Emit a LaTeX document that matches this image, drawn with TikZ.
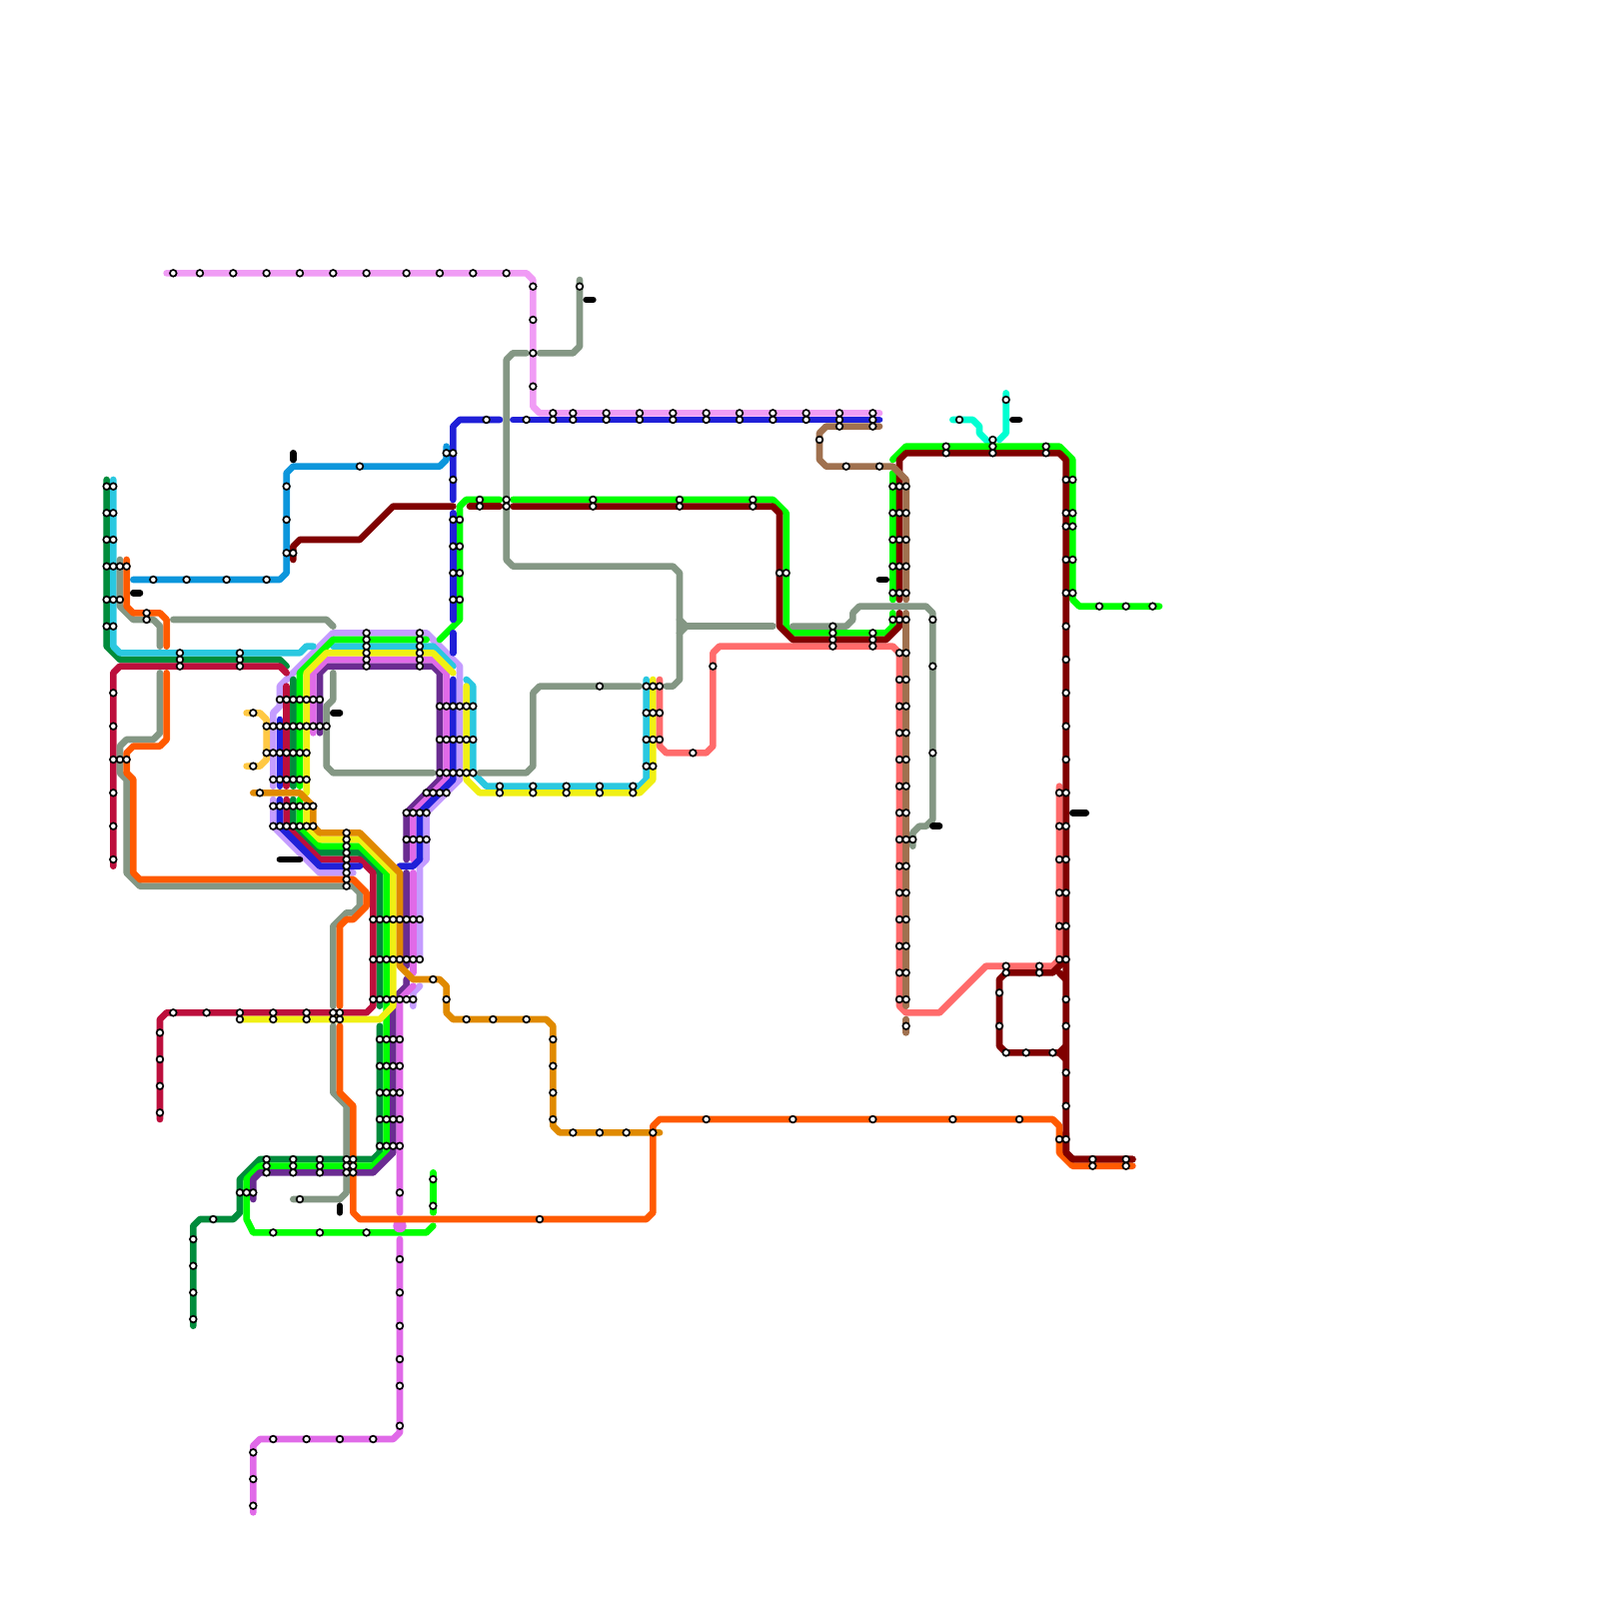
\documentclass[tikz,border=0pt]{standalone}
\definecolor{cgray}{HTML}{849784}
\definecolor{corange}{HTML}{FF5A00}
\definecolor{cgreen}{HTML}{00FF00}
\definecolor{cdgreen}{HTML}{008C3C}
\definecolor{ccyan}{HTML}{2AC8E0}
\definecolor{cblue}{HTML}{2020D8}
\definecolor{ccrim}{HTML}{BC0F3C}
\definecolor{clav}{HTML}{C49CFF}
\definecolor{cyel}{HTML}{F0F014}
\definecolor{corch}{HTML}{E06AE8}
\definecolor{cpur}{HTML}{6A2C91}
\definecolor{cgold}{HTML}{E08A00}
\definecolor{clgold}{HTML}{FFC844}
\definecolor{cred}{HTML}{800000}
\definecolor{ccoral}{HTML}{FF6B6B}
\definecolor{cbrown}{HTML}{A0714F}
\definecolor{csky}{HTML}{0C96DC}
\definecolor{cpink}{HTML}{F09CF5}
\definecolor{cmint}{HTML}{00FFD2}
\tikzset{
  ln/.style={line width=1mm,line cap=round,line join=round},
  bar/.style={line width=1mm,line cap=round,black},
  stn/.style={circle,draw=black,fill=white,line width=0.25mm,minimum size=1mm,inner sep=0pt,outer sep=0pt}
}
\begin{document}
\begin{tikzpicture}[x=1mm,y=-1mm]
\useasboundingbox (0,0) rectangle (240,240);
% lavender
\draw[ln,clav] (53,131)--(48,131)--(41,124)--(41,120);
\draw[ln,clav] (41,118)--(41,107)--(42,106)--(42,103)--(50,95)--(64,95)--(69,100)--(69,117)--(64,122)--(64,129)--(63,130)--(63,144);
\draw[ln,clav] (63,148)--(62,149)--(62,151);
% dark green
\draw[ln,cdgreen] (16,72)--(16,97)--(18,99)--(42,99)--(43,100);
\draw[ln,cdgreen] (44,102)--(44,118);
\draw[ln,cdgreen] (44,120)--(44,124)--(48,128)--(54,128)--(57,131)--(57,151);
\draw[ln,cdgreen] (57,154)--(57,173)--(56,174)--(39,174)--(36,177)--(36,182)--(35,183)--(30,183)--(29,184)--(29,199);
% crimson
\draw[ln,ccrim] (17,130)--(17,101)--(18,100)--(42,100)--(43,101);
\draw[ln,ccrim] (43,103)--(43,118);
\draw[ln,ccrim] (43,120)--(43,124)--(48,129)--(54,129)--(56,131)--(56,151)--(55,152)--(25,152)--(24,153)--(24,168);
% cyan
\draw[ln,ccyan] (17,72)--(17,97)--(18,98)--(45,98)--(46,97)--(47,97);
\draw[ln,ccyan] (50,97)--(65,97)--(68,100);
\draw[ln,ccyan] (70,102)--(71,103)--(71,116)--(73,118)--(96,118)--(97,117)--(97,102);
% green
\draw[ln,cgreen] (45,118)--(45,101)--(50,96)--(64,96);
\draw[ln,cgreen] (45,120)--(45,124)--(48,127)--(54,127)--(58,131)--(58,173)--(56,175)--(39,175)--(37,177)--(37,183)--(38,185)--(64,185)--(65,184);
\draw[ln,cgreen] (66,96)--(69,93)--(69,76)--(70,75)--(75,75);
\draw[ln,cgreen] (77,75)--(116,75)--(118,77)--(118,94)--(119,95)--(133,95)--(134,94)--(134,92);
\draw[ln,cmint] (143,63)--(146,63)--(147,64)--(147,65)--(149,67);
\draw[ln,cmint] (150,66)--(151,65)--(151,59);
\draw[ln,cgreen] (134,90)--(134,71);
\draw[ln,cgreen] (134,69)--(136,67)--(159,67)--(161,69)--(161,90)--(162,91)--(174,91);
\draw[ln,cgreen] (65,176)--(65,182);
% purple
\draw[ln,cpur] (48,110)--(48,101)--(49,100)--(65,100)--(66,101)--(66,117)--(61,122)--(61,129);
\draw[ln,cpur] (61,131)--(61,145);
\draw[ln,cpur] (61,147)--(61,148)--(59,150)--(59,173)--(56,176)--(39,176)--(38,177)--(38,180);
% orchid
\draw[ln,corch] (47,110)--(47,101)--(49,99)--(65,99)--(67,101)--(67,117)--(62,122)--(62,129);
\draw[ln,corch] (62,131)--(62,146);
\draw[ln,corch] (62,148)--(60,150)--(60,182);
\draw[ln,corch] (60,186)--(60,215)--(59,216)--(39,216)--(38,217)--(38,227);
\fill[corch] (60,184) circle (1);
% yellow
\draw[ln,cyel] (46,119)--(46,101)--(49,98)--(65,98)--(68,101);
\draw[ln,cyel] (46,121)--(46,124)--(48,126)--(54,126)--(59,131)--(59,151)--(57,153)--(36,153);
\draw[ln,cyel] (70,103)--(70,117)--(72,119)--(96,119)--(98,117)--(98,102);
% blue
\draw[ln,cblue] (42,108)--(42,118);
\draw[ln,cblue] (42,120)--(42,124)--(48,130)--(54,130);
\draw[ln,cblue] (60,130)--(62,130)--(63,129)--(63,122)--(68,117)--(68,102);
\draw[ln,cblue] (68,98)--(68,95);
\draw[ln,cblue] (68,93)--(68,77);
\draw[ln,cblue] (68,75)--(68,64)--(69,63)--(75,63);
\draw[ln,cblue] (77,63)--(132,63);
% pink
\draw[ln,cpink] (25,41)--(79,41)--(80,42)--(80,61)--(81,62)--(132,62);
% gold
\draw[ln,cgold] (38,119)--(45,119)--(47,121)--(47,124)--(48,125)--(54,125)--(60,131)--(60,145)--(62,147)--(66,147)--(67,148)--(67,152)--(68,153)--(82,153)--(83,154)--(83,169)--(84,170)--(99,170);
\draw[ln,clgold] (37,107)--(39,107)--(40,108)--(40,114)--(39,115)--(37,115);
% sky
\draw[ln,csky] (67,67)--(67,69)--(66,70)--(44,70)--(43,71)--(43,86)--(42,87)--(20,87);
% coral
\draw[ln,ccoral] (99,102)--(99,112)--(100,113)--(106,113)--(107,112)--(107,98)--(108,97)--(134,97)--(135,98)--(135,151)--(136,152)--(141,152)--(148,145)--(158,145)--(159,144)--(159,118);
% dark red
\draw[ln,cred] (44,84)--(44,82)--(45,81)--(54,81)--(59,76)--(68,76);
\draw[ln,cred] (70.5,76)--(75,76);
\draw[ln,cred] (77,76)--(116,76)--(117,77)--(117,94)--(119,96)--(133,96)--(135,94)--(135,92);
\draw[ln,cred] (135,90)--(135,69)--(136,68)--(159,68)--(160,69)--(160,173)--(161,174)--(170,174);
\draw[ln,cred] (160,144)--(158,146)--(151,146)--(150,147)--(150,157)--(151,158)--(159,158)--(160,157);
\draw[ln,cred] (159,146)--(160,147);
\draw[ln,cred] (159,158)--(160,159);
% brown
\draw[ln,cbrown] (132,64)--(124,64)--(123,65)--(123,69)--(124,70)--(134,70)--(136,72)--(136,90);
\draw[ln,cbrown] (136,92)--(136,151);
\draw[ln,cbrown] (136,153)--(136,155);
% gray
\draw[ln,cgray] (18,84)--(18,91)--(20,93)--(23,93)--(24,94)--(24,97);
\draw[ln,cgray] (26,93)--(49,93)--(50,94);
\draw[ln,cgray] (24,101)--(24,110)--(23,111)--(19,111)--(18,112)--(18,116)--(19,117)--(19,131)--(21,133)--(53,133)--(54,134)--(54,136)--(53,137)--(52,137)--(50,139)--(50,151);
\draw[ln,cgray] (50,154)--(50,164)--(52,166)--(52,179)--(51,180)--(44,180);
\draw[ln,cgray] (50,101)--(50,105)--(49,106)--(49,115)--(50,116)--(65,116);
\draw[ln,cgray] (72,116)--(79,116)--(80,115)--(80,104)--(81,103)--(96,103);
\draw[ln,cgray] (87,42)--(87,52)--(86,53)--(81,53);
\draw[ln,cgray] (79,53)--(77,53)--(76,54)--(76,84)--(77,85)--(101,85)--(102,86)--(102,102)--(101,103)--(100,103);
\draw[ln,cgray] (102,93)--(103,94)--(102,95);
\draw[ln,cgray] (103,94)--(116,94);
\draw[ln,cgray] (119,94)--(127,94)--(128,93)--(128,92)--(129,91)--(139,91)--(140,92)--(140,123)--(139,124)--(138,124)--(137,125)--(137,127);
% orange
\draw[ln,corange] (19,84)--(19,91)--(20,92)--(24,92)--(25,93)--(25,97);
\draw[ln,corange] (25,101)--(25,111)--(24,112)--(20,112)--(19,113)--(19,116)--(20,117)--(20,131)--(21,132)--(53,132)--(55,134)--(55,136)--(53,138)--(52,138)--(51,139)--(51,151);
\draw[ln,corange] (51,154)--(51,164)--(53,166)--(53,182)--(54,183)--(97,183)--(98,182)--(98,169)--(99,168)--(158,168)--(159,169)--(159,173)--(161,175)--(170,175);
\draw[ln,cred] (160,170)--(160,173)--(161,174)--(170,174);
% black bars
\draw[bar] (44,68)--(44,69);
\draw[bar] (20,89)--(21,89);
\draw[bar] (50,107)--(51,107);
\draw[bar] (42,129)--(45,129);
\draw[bar] (132,87)--(133,87);
\draw[bar] (152,63)--(153,63);
\draw[bar] (140,124)--(141,124);
\draw[bar] (161,122)--(163,122);
\draw[bar] (51,181)--(51,182);
\draw[bar] (88,45)--(89,45);
% stations: rows
\foreach \y/\xs in {
 41/{26,30,35,40,45,50,55,61,66,71,76},
 62/{83,86,91,96,101,106,111,116,121,126,131},
 63/{73,79,83,86,91,96,101,106,111,116,121,126,131,144},
 64/{126,131},
 68/{67,68,142,149,157}, 67/{142,149,157}, 66/{123,149},
 70/{54,127,132},
 72/{68,160,161},
 73/{16,17,43,134,135,136},
 75/{72,76,89,102,113}, 76/{72,76,89,102,113},
 77/{16,17,134,135,136,160,161},
 78/{43,68,69},
 79/{160,161},
 81/{16,17,134,135,136},
 82/{68,69},
 83/{43,44},
 84/{160,161},
 85/{16,17,18,19,134,135,136},
 86/{68,69,117,118},
 87/{23,28,34,40},
 89/{134,135,136,160,161},
 90/{16,17,18,68,69},
 91/{165,169,173},
 92/{22}, 93/{22,134,135,136,140},
 94/{16,17,125,160},
 95/{55,63,125,131}, 96/{55,63,125,131}, 97/{55,63,125,131},
 98/{27,36,55,63,135,136}, 99/{27,36,55,63,160}, 100/{27,36,55,63,107,140},
 102/{135,136},
 103/{90,97,98,99},
 104/{17,160},
 105/{42,43,44,45,46,47,48},
 106/{66,67,68,69,70,71,135,136},
 107/{38,97,98,99},
 109/{17,40,41,42,43,44,45,46,47,48,49,160},
 110/{135,136},
 111/{66,67,68,69,70,71,97,98,99},
 113/{40,41,42,43,44,45,46,104,140},
 114/{17,18,19,135,136,160},
 115/{38,97,98},
 116/{66,67,68,69,70,71},
 117/{41,42,43,44,45,46},
 118/{75,80,85,90,95,135,136},
 119/{17,39,64,65,66,67,75,80,85,90,95,159,160},
 121/{41,42,43,44,45,46,47},
 122/{61,62,63,64,135,136},
 124/{17,41,42,43,44,45,46,47,159,160},
 125/{52},
 126/{52,61,62,63,64,135,136,137},
 127/{52},128/{52},129/{17,52,159,160},130/{52,135,136},131/{52},132/{52},133/{52},
 134/{135,136,159,160},
 138/{56,57,58,59,60,61,62,63,135,136},
 139/{159,160},
 142/{135,136},
 144/{56,57,58,59,60,61,62,63,159,160},
 145/{151,156},146/{135,136,151,156},
 147/{65},
 149/{150},
 150/{56,57,58,59,60,61,62,67,135,136,160},
 152/{26,31,36,41,46,50,51},
 153/{36,41,46,50,51,70,74,79},
 154/{136,150,160},
 155/{24},156/{57,58,59,60,83},
 158/{151,154,158},
 159/{24},
 160/{57,58,59,60,83},
 161/{160},
 163/{24},
 164/{57,58,59,60,83},
 166/{160},
 167/{24},
 168/{57,58,59,60,83,106,119,131,143,153},
 170/{86,90,94,98},
 171/{159,160},
 172/{57,58,59,60},
 174/{40,44,48,52,53,164,169},
 175/{40,44,48,52,53,164,169},
 176/{40,44,48,52,53},
 177/{65},
 179/{36,37,38,60},
 180/{45},
 181/{65},
 183/{32,81},
 185/{41,48,55},
 186/{29},
 189/{60},
 190/{29},194/{29,60},198/{29},199/{60},204/{60},208/{60},214/{60},
 216/{41,46,51,56},
 218/{38},222/{38},226/{38},
 43/{80,87},48/{80},53/{80},58/{80},
 60/{151}
}{
  \foreach \x in \xs {
    \node[stn] (s\x-\y) at (\x,\y) {};
  }
}
\end{tikzpicture}
\end{document}
